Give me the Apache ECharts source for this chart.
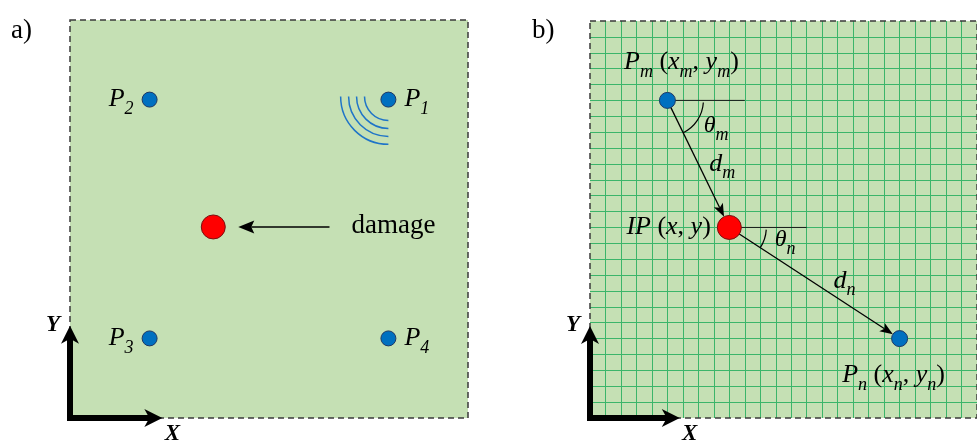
<!DOCTYPE html>
<html>
<head>
<meta charset="utf-8">
<script src="https://cdn.jsdelivr.net/npm/echarts@6/dist/echarts.min.js"></script>
<style>
  html, body { margin: 0; padding: 0; background: #fff; }
  #chart { width: 977px; height: 444px; }
</style>
</head>
<body>
<div id="chart"></div>
<script>
// ---- Plate coordinates (both panels span 0..25 units on each side) ----
const PLATE_MAX = 25;
const frameArrowLen = 5.8;            // length of the X / Y reference arrows

// Panel a: four sensors and the damage site
const sensorsA = [[20, 20], [5, 20], [5, 5], [20, 5]];
const sensorIdsA = ['1', '2', '3', '4'];
const sensorSidesA = ['right', 'left', 'left', 'right'];
const damageA = [9, 12];
const damagePointerStart = [16.3, 12];
const waveRadii = [1.5, 2, 2.5, 3];   // wavefronts emitted by P1

// Panel b: sensor pair and imaging point on the grid
const sensorM = [5, 20];
const sensorN = [20, 5];
const impactB = [9, 12];
const refEnds = [10, 14];             // x where the horizontal references end
const pathSubs = ['m', 'n'];

// ---- Styling ----
const serif = '"Liberation Serif", "Times New Roman", serif';
const plateFill = '#C5E0B4';
const meshColor = '#3BB56A';

const labelRich = {
  i: { fontFamily: serif, fontStyle: 'italic', fontSize: 26, color: '#000' },
  r: { fontFamily: serif, fontSize: 26, color: '#000' },
  s: { fontFamily: serif, fontStyle: 'italic', fontSize: 18, color: '#000', padding: [20, 0, 0, 0] }
};
const zrRich = {
  i: { fontFamily: serif, fontStyle: 'italic', fontSize: 26 },
  g: { fontFamily: serif, fontStyle: 'italic', fontSize: 24 },
  s: { fontFamily: serif, fontStyle: 'italic', fontSize: 18, padding: [18, 0, 0, 0] }
};

// Arrow from point a to point b (data coords), tip pulled back by o.gap pixels
function arrowEls(api, a, b, o) {
  const p = api.coord(a), q = api.coord(b);
  const dx = q[0] - p[0], dy = q[1] - p[1];
  const len = Math.hypot(dx, dy);
  const ux = dx / len, uy = dy / len, vx = -uy, vy = ux;
  const tip = [q[0] - ux * o.gap, q[1] - uy * o.gap];
  const back = [tip[0] - ux * o.head, tip[1] - uy * o.head];
  const notch = [tip[0] - ux * (o.head - o.notch), tip[1] - uy * (o.head - o.notch)];
  return {
    tip: tip,
    els: [
      { type: 'line', shape: { x1: p[0], y1: p[1], x2: notch[0], y2: notch[1] },
        style: { stroke: '#000', lineWidth: o.width, lineCap: o.cap || 'butt' } },
      { type: 'polygon', shape: { points: [tip, [back[0] + vx * o.half, back[1] + vy * o.half], notch,
          [back[0] - vx * o.half, back[1] - vy * o.half]] },
        style: { fill: '#000' } }
    ]
  };
}

// Dashed outline of a plate
const outlineData = [[0, 0, PLATE_MAX, PLATE_MAX]];
function renderOutline(params, api) {
  const a = api.coord([api.value(0), api.value(1)]);
  const b = api.coord([api.value(2), api.value(3)]);
  return {
    type: 'rect',
    shape: { x: Math.min(a[0], b[0]), y: Math.min(a[1], b[1]), width: Math.abs(b[0] - a[0]), height: Math.abs(b[1] - a[1]) },
    style: { fill: null, stroke: '#3a3a3a', lineWidth: 1.5, lineDash: [6, 4] }
  };
}

// X / Y reference frame in the lower-left corner of a plate
const frameData = [[0, 0, frameArrowLen, 0], [0, 0, 0, frameArrowLen]];
const frameNames = ['X', 'Y'];
const frameLabelOffsets = [[10, 16], [-17, -1]];
function renderFrame(params, api) {
  const i = params.dataIndex;
  const r = arrowEls(api, [api.value(0), api.value(1)], [api.value(2), api.value(3)],
    { gap: 0, head: 18, half: 9, notch: 5, width: 6, cap: 'square' });
  const off = frameLabelOffsets[i];
  r.els.push({
    type: 'text', x: r.tip[0] + off[0], y: r.tip[1] + off[1],
    style: { text: frameNames[i], fontFamily: serif, fontStyle: 'italic', fontWeight: 'bold',
      fontSize: 23, fill: '#000', align: 'center', verticalAlign: 'middle' }
  });
  return { type: 'group', children: r.els };
}

function plateAxis(gridIndex, showMesh) {
  return {
    type: 'value', gridIndex: gridIndex, min: 0, max: PLATE_MAX, interval: 1,
    axisLine: { show: false }, axisTick: { show: false }, axisLabel: { show: false },
    splitLine: { show: showMesh, lineStyle: { color: meshColor, width: 1 }, showMinLine: false, showMaxLine: false }
  };
}

const option = {
  animation: false,
  backgroundColor: '#fff',
  title: [
    { text: 'a)', left: 6, top: 12, textStyle: { fontFamily: serif, fontSize: 27, fontWeight: 'normal', color: '#000' } },
    { text: 'b)', left: 527, top: 12, textStyle: { fontFamily: serif, fontSize: 27, fontWeight: 'normal', color: '#000' } }
  ],
  grid: [
    { left: 70, top: 20, width: 398, height: 398, show: true, backgroundColor: plateFill, borderWidth: 0 },
    { left: 590, top: 21, width: 398, height: 397, show: true, backgroundColor: plateFill, borderWidth: 0 }
  ],
  xAxis: [plateAxis(0, false), plateAxis(1, true)],
  yAxis: [plateAxis(0, false), plateAxis(1, true)],
  series: [
    // ---------- panel a ----------
    {
      type: 'custom', name: 'outline a', xAxisIndex: 0, yAxisIndex: 0, z: 3, silent: true,
      encode: { x: [0, 2], y: [1, 3] }, data: outlineData, renderItem: renderOutline
    },
    {
      type: 'custom', name: 'frame a', xAxisIndex: 0, yAxisIndex: 0, z: 5, silent: true,
      encode: { x: [0, 2], y: [1, 3] }, data: frameData, renderItem: renderFrame
    },
    {
      type: 'custom', name: 'damage pointer', xAxisIndex: 0, yAxisIndex: 0, silent: true,
      encode: { x: [0, 2], y: [1, 3] },
      data: [[damagePointerStart[0], damagePointerStart[1], damageA[0], damageA[1]]],
      renderItem: function (params, api) {
        const start = [api.value(0), api.value(1)];
        const r = arrowEls(api, start, [api.value(2), api.value(3)],
          { gap: 25, head: 16, half: 6.5, notch: 3, width: 1.5 });
        const s = api.coord(start);
        r.els.push({
          type: 'text', x: s[0] + 22, y: s[1] - 1,
          style: { text: 'damage', fontFamily: serif, fontSize: 27, fill: '#000', align: 'left', verticalAlign: 'middle' }
        });
        return { type: 'group', children: r.els };
      }
    },
    {
      type: 'custom', name: 'wavefronts', xAxisIndex: 0, yAxisIndex: 0, silent: true,
      data: [sensorsA[0]],
      renderItem: function (params, api) {
        const c = api.coord([api.value(0), api.value(1)]);
        return {
          type: 'group',
          children: waveRadii.map(function (rad) {
            return {
              type: 'arc',
              shape: { cx: c[0], cy: c[1] - 3, r: api.size([rad, 0])[0], startAngle: Math.PI / 2, endAngle: Math.PI, clockwise: true },
              style: { stroke: '#1F74C8', lineWidth: 1.5, fill: null }
            };
          })
        };
      }
    },
    {
      type: 'scatter', name: 'sensors a', xAxisIndex: 0, yAxisIndex: 0, silent: true,
      symbolSize: 15, itemStyle: { color: '#0070C0', borderColor: '#1F3864', borderWidth: 1, opacity: 1 },
      label: { show: true, distance: 8, rich: labelRich },
      data: sensorsA.map(function (v, i) {
        return { value: v, label: { position: sensorSidesA[i], formatter: '{i|P}{s|' + sensorIdsA[i] + '}' } };
      })
    },
    {
      type: 'scatter', name: 'damage', xAxisIndex: 0, yAxisIndex: 0, silent: true,
      symbolSize: 24, itemStyle: { color: '#FF0000', borderColor: '#7A1010', borderWidth: 1, opacity: 1 },
      data: [damageA]
    },
    // ---------- panel b ----------
    {
      type: 'custom', name: 'outline b', xAxisIndex: 1, yAxisIndex: 1, z: 3, silent: true,
      encode: { x: [0, 2], y: [1, 3] }, data: outlineData, renderItem: renderOutline
    },
    {
      type: 'custom', name: 'frame b', xAxisIndex: 1, yAxisIndex: 1, z: 5, silent: true,
      encode: { x: [0, 2], y: [1, 3] }, data: frameData, renderItem: renderFrame
    },
    {
      type: 'custom', name: 'horizontal references', xAxisIndex: 1, yAxisIndex: 1, silent: true,
      encode: { x: [0, 2], y: [1, 3] },
      data: [[sensorM[0], sensorM[1], refEnds[0], sensorM[1]], [impactB[0], impactB[1], refEnds[1], impactB[1]]],
      renderItem: function (params, api) {
        const a = api.coord([api.value(0), api.value(1)]);
        const b = api.coord([api.value(2), api.value(3)]);
        return { type: 'line', shape: { x1: a[0], y1: a[1], x2: b[0], y2: b[1] }, style: { stroke: '#1a1a1a', lineWidth: 1 } };
      }
    },
    {
      type: 'custom', name: 'incidence angles', xAxisIndex: 1, yAxisIndex: 1, silent: true,
      encode: { x: [0, 2], y: [1, 3] },
      data: [[sensorM[0], sensorM[1], impactB[0], impactB[1]], [impactB[0], impactB[1], sensorN[0], sensorN[1]]],
      renderItem: function (params, api) {
        const i = params.dataIndex;
        const c = api.coord([api.value(0), api.value(1)]);
        const t = api.coord([api.value(2), api.value(3)]);
        const ang = Math.atan2(t[1] - c[1], t[0] - c[0]);
        const rad = i === 0 ? 36 : 37;
        const mid = ang / 2;
        const lr = rad + 18;
        return {
          type: 'group',
          children: [
            { type: 'arc', shape: { cx: c[0], cy: c[1], r: rad, startAngle: 0.06, endAngle: ang, clockwise: true },
              style: { stroke: '#000', lineWidth: 1.2, fill: null } },
            { type: 'text', x: c[0] + Math.cos(mid) * lr + 3, y: c[1] + Math.sin(mid) * lr - 3,
              style: { text: '{g|θ}{s|' + pathSubs[i] + '}', rich: zrRich, fill: '#000', align: 'center', verticalAlign: 'middle' } }
          ]
        };
      }
    },
    {
      type: 'custom', name: 'propagation paths', xAxisIndex: 1, yAxisIndex: 1, silent: true,
      encode: { x: [0, 2], y: [1, 3] },
      data: [[sensorM[0], sensorM[1], impactB[0], impactB[1]], [impactB[0], impactB[1], sensorN[0], sensorN[1]]],
      renderItem: function (params, api) {
        const i = params.dataIndex;
        const a = [api.value(0), api.value(1)], b = [api.value(2), api.value(3)];
        const gaps = [12, 8];
        const offs = [[24, 0], [30, -2]];
        const r = arrowEls(api, a, b, { gap: gaps[i], head: 13, half: 5, notch: 3, width: 1.3 });
        const p = api.coord(a), q = api.coord(b);
        r.els.push({
          type: 'text', x: (p[0] + q[0]) / 2 + offs[i][0], y: (p[1] + q[1]) / 2 + offs[i][1],
          style: { text: '{i|d}{s|' + pathSubs[i] + '}', rich: zrRich, fill: '#000', align: 'center', verticalAlign: 'middle' }
        });
        return { type: 'group', children: r.els };
      }
    },
    {
      type: 'scatter', name: 'sensors b', xAxisIndex: 1, yAxisIndex: 1, silent: true,
      symbolSize: 16, itemStyle: { color: '#0070C0', borderColor: '#1F3864', borderWidth: 1, opacity: 1 },
      label: { show: true, rich: labelRich },
      data: [
        { value: sensorM, label: { position: 'top', distance: 11, offset: [14, 0],
          formatter: '{i|P}{s|m}{r| (}{i|x}{s|m}{r|, }{i|y}{s|m}{r|)}' } },
        { value: sensorN, label: { position: 'bottom', distance: 9, offset: [-6, 0],
          formatter: '{i|P}{s|n}{r| (}{i|x}{s|n}{r|, }{i|y}{s|n}{r|)}' } }
      ]
    },
    {
      type: 'scatter', name: 'imaging point', xAxisIndex: 1, yAxisIndex: 1, silent: true,
      symbolSize: 24, itemStyle: { color: '#FF0000', borderColor: '#7A1010', borderWidth: 1, opacity: 1 },
      label: { show: true, position: 'left', distance: 6, rich: labelRich, formatter: '{i|IP}{r| (}{i|x}{r|, }{i|y}{r|)}' },
      data: [impactB]
    }
  ]
};

const chart = echarts.init(document.getElementById('chart'), null, { renderer: 'canvas' });
chart.setOption(option);
</script>
</body>
</html>
